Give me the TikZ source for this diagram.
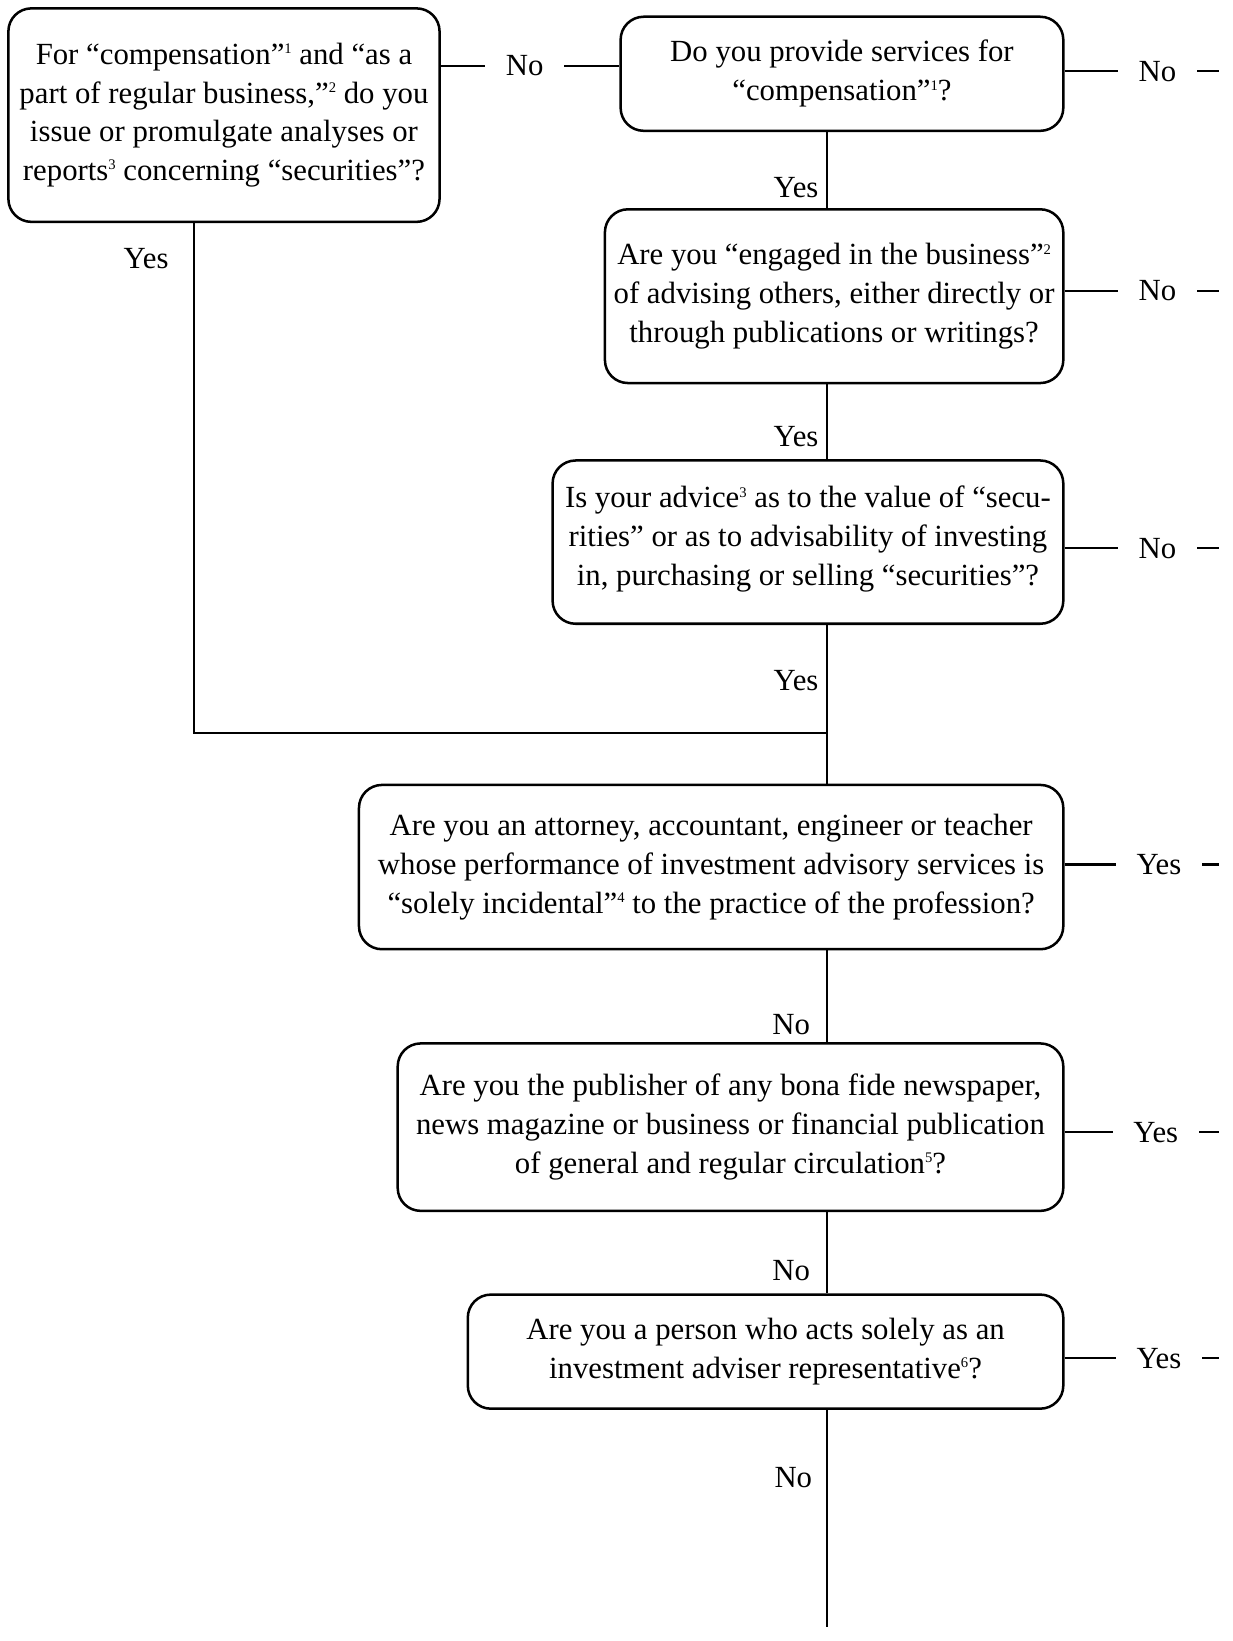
\documentclass[tikz,border=0pt]{standalone}
\usepackage{fontspec}
\setmainfont{Liberation Serif}
\newcommand{\fnm}[1]{\raisebox{0.75ex}{\fontsize{7pt}{7pt}\selectfont #1}}
\begin{document}
\begin{tikzpicture}[x=0.5pt,y=-0.5pt,
  txt/.style={font=\fontsize{14.7pt}{18.5pt}\selectfont},
  box/.style={txt, draw, line width=1.2pt, rounded corners=11pt, align=center, inner sep=0pt},
  conn/.style={line width=1pt},
  lbl/.style={txt, fill=white, inner xsep=10pt, inner ysep=2pt},
  vlbl/.style={txt, inner sep=3.5pt}]
\useasboundingbox (0,0) rectangle (1178,1568);

\node[box, minimum width=206pt, minimum height=102pt] (A) at (214,110)
  {For “compensation”\fnm{1} and “as a\\ part of regular business,”\fnm{2} do you\\ issue or promulgate analyses or\\ reports\fnm{3} concerning “securities”?};
\node[box, minimum width=211.5pt, minimum height=54.5pt] (B) at (804.5,70.5)
  {Do you provide services for\\ “compensation”\fnm{1}?};
\node[box, minimum width=219pt, minimum height=83pt] (C) at (797,283)
  {Are you “engaged in the business”\fnm{2}\\ of advising others, either directly or\\ through publications or writings?};
\node[box, minimum width=244pt, minimum height=78pt] (D) at (772,518)
  {Is your advice\fnm{3} as to the value of “secu-\\ rities” or as to advisability of investing\\ in, purchasing or selling “securities”?\\[-12.5pt]};
\node[box, minimum width=336.5pt, minimum height=78.5pt] (E) at (679.5,828.5)
  {Are you an attorney, accountant, engineer or teacher\\ whose performance of investment advisory services is\\ “solely incidental”\fnm{4} to the practice of the profession?};
\node[box, minimum width=318pt, minimum height=80pt] (F) at (698,1077)
  {Are you the publisher of any bona fide newspaper,\\ news magazine or business or financial publication\\ of general and regular circulation\fnm{5}?};
\node[box, minimum width=284.5pt, minimum height=54.5pt] (G) at (731.5,1291.5)
  {Are you a person who acts solely as an\\ investment adviser representative\fnm{6}?};

% helper coordinates
\coordinate (mx) at (790,0);
\coordinate (ax) at (185,0);
\coordinate (ab) at (500,63);
\coordinate (jn) at (790,700);
\coordinate (endN) at (790,1555);
\coordinate (eB) at (1165,68);
\coordinate (eC) at (1165,278);
\coordinate (eD) at (1165,524);
\coordinate (eE) at (1165,826);
\coordinate (eF) at (1165,1082);
\coordinate (eG) at (1165,1298);

% A -> B
\draw[conn] (A.east |- ab) -- node[lbl, pos=0.47]{No} (B.west |- ab);
% vertical chain
\draw[conn] (B.south -| mx) -- node[vlbl, left, pos=0.73]{Yes} (C.north -| mx);
\draw[conn] (C.south -| mx) -- node[vlbl, left, pos=0.70]{Yes} (D.north -| mx);
\draw[conn] (D.south -| mx) -- node[vlbl, left, pos=0.35]{Yes} (E.north -| mx);
\draw[conn] (E.south -| mx) -- node[vlbl, left, pos=0.81, xshift=-4pt]{No} (F.north -| mx);
\draw[conn] (F.south -| mx) -- node[vlbl, left, pos=0.725, xshift=-4pt]{No} (G.north -| mx);
\draw[conn] (G.south -| mx) -- node[vlbl, left, pos=0.31, xshift=-3pt]{No} (endN);
% A yes branch to junction
\draw[conn] (A.south -| ax) -- node[vlbl, left, pos=0.07, xshift=-8pt]{Yes} (ax |- jn) -- (jn);
% right exits
\draw[conn] (B.east |- eB) -- node[lbl, pos=0.6]{No} (eB);
\draw[conn] (C.east |- eC) -- node[lbl, pos=0.6]{No} (eC);
\draw[conn] (D.east |- eD) -- node[lbl, pos=0.6]{No} (eD);
\draw[conn] (E.east |- eE) -- node[lbl, pos=0.61]{Yes} (eE);
\draw[conn] (F.east |- eF) -- node[lbl, pos=0.59]{Yes} (eF);
\draw[conn] (G.east |- eG) -- node[lbl, pos=0.61]{Yes} (eG);
\end{tikzpicture}
\end{document}
